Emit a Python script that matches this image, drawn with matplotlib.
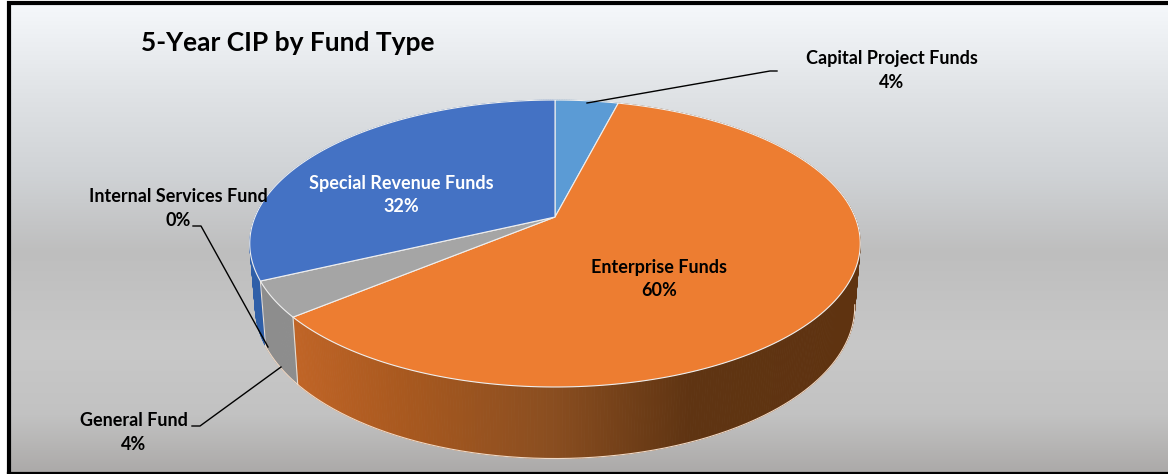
import numpy as np
import matplotlib
matplotlib.use('Agg')
import matplotlib.pyplot as plt
from matplotlib.colors import LinearSegmentedColormap, to_rgb

# Slices, clockwise from 12 o'clock
categories = ['Capital Project Funds', 'Enterprise Funds', 'General Fund',
              'Internal Services Fund', 'Special Revenue Funds']
shares = [4, 60, 4, 0, 32]
title = '5-Year CIP by Fund Type'

top_colors = ['#5B9BD5', '#ED7D31', '#A5A5A5', '#FFC000', '#4472C4']
side_colors = ['#3F74A6', '#BF6426', '#8D8D8D', '#B08800', '#2F5FA8']

plt.rcParams['font.family'] = ['Lato', 'DejaVu Sans']

W, H = 1168, 474
fig = plt.figure(figsize=(W / 100, H / 100), dpi=100, facecolor='white')
ax = fig.add_axes([0, 0, 1, 1])
ax.set_xlim(0, W)
ax.set_ylim(H, 0)
ax.axis('off')

# Background gradient and frame
bg_stops = [(0.0, '#F5F8FB'), (0.21, '#DEE1E4'), (0.37, '#CFD2D5'), (0.53, '#BEBEBE'),
            (0.74, '#C8C8C8'), (0.88, '#C2C2C2'), (1.0, '#ACAAA9')]
bg_cmap = LinearSegmentedColormap.from_list('bg', bg_stops)
ax.imshow(np.linspace(0, 1, 256).reshape(-1, 1), cmap=bg_cmap, aspect='auto',
          extent=(9, W, 472, 3), zorder=0)
ax.plot([W, 9, 9], [3, 3, 473], color='black', lw=3.0, zorder=1, solid_joinstyle='miter')
ax.plot([8, W], [473, 473], color='black', lw=1.6, zorder=1)
ax.set_xlim(0, W)
ax.set_ylim(H, 0)

# Tilted-disc geometry
cx, cy = 555, 217        # where the slices meet
tilt = 0.1847
scale_x, scale_y = 300, 138.6
top_mid = 243
side_rx, side_mid, side_ry = 300 / 305.5, 306, 152 / 143.5


def rim_top(t):
    w = 1 + tilt * np.cos(t)
    return cx + scale_x * np.sin(t) / w, cy - scale_y * np.cos(t) / w


def rim_bottom(t):
    x, y = rim_top(t)
    return cx + (x - cx) * side_rx, side_mid + (y - top_mid) * side_ry


def shade(x, base, i):
    # the Enterprise side darkens from left to right
    if i != 1:
        return base
    xs = [298, 400, 550, 690, 860]
    cs = np.array([to_rgb(c) for c in ['#BF6426', '#A9591F', '#8A4E20', '#5F3412', '#5F3310']])
    return tuple(np.interp(x, xs, cs[:, k]) for k in range(3))


edges = np.radians(np.cumsum([0] + shares) * 3.6)

# Side wall first, the top surface covers whatever lies behind it
for i, (a, b) in enumerate(zip(edges[:-1], edges[1:])):
    if b <= a:
        continue
    ts = np.linspace(a, b, max(2, int(np.degrees(b - a) * 2)))
    for t0, t1 in zip(ts[:-1], ts[1:]):
        x0, y0 = rim_top(t0)
        x1, y1 = rim_top(t1)
        x2, y2 = rim_bottom(t1)
        x3, y3 = rim_bottom(t0)
        c = shade((x0 + x1) / 2, side_colors[i], i)
        ax.fill([x0, x1, x2, x3], [y0, y1, y2, y3], color=c, lw=0.6, zorder=2)

# Pale outline along the lower rim and slice seams on the side wall
tt = np.linspace(np.radians(100), np.radians(245), 300)
ax.plot(*rim_bottom(tt), color='#F0D8C4', lw=0.8, zorder=3)
for t in edges[1:4]:
    x0, y0 = rim_top(t)
    x1, y1 = rim_bottom(t)
    ax.plot([x0, x1], [y0, y1], color='#E8DCD0', lw=0.8, zorder=3)

# Top surface
for i, (a, b) in enumerate(zip(edges[:-1], edges[1:])):
    if b <= a:
        continue
    ts = np.linspace(a, b, 200)
    xs, ys = rim_top(ts)
    ax.fill(np.r_[cx, xs], np.r_[cy, ys], facecolor=top_colors[i],
            edgecolor='#EFEFEF', lw=0.8, zorder=4)

# Leader lines
leader_color = 'black'
ax.plot([587, 770, 777], [103, 71, 71], color=leader_color, lw=1, zorder=5)
ax.plot([193, 201, 268], [226, 226, 347], color=leader_color, lw=1, zorder=5)
ax.plot([192, 200, 281], [426, 426, 367], color=leader_color, lw=1, zorder=5)

# Labels
label_pos = [(892, 70, 'black'), (659, 279, 'black'), (134, 433, 'black'),
             (178, 209, 'black'), (401, 195, 'white')]
for name, share, (x, y, col) in zip(categories, shares, label_pos):
    ax.text(x, y, f'{name}\n{share}%', ha='center', va='center', color=col,
            fontsize=13, fontweight='bold', linespacing=1.5, zorder=6)

ax.text(141, 43, title, ha='left', va='center', color='black', fontsize=19,
        fontweight='bold', zorder=6)

fig.savefig('out.png', dpi=100, facecolor='white')
